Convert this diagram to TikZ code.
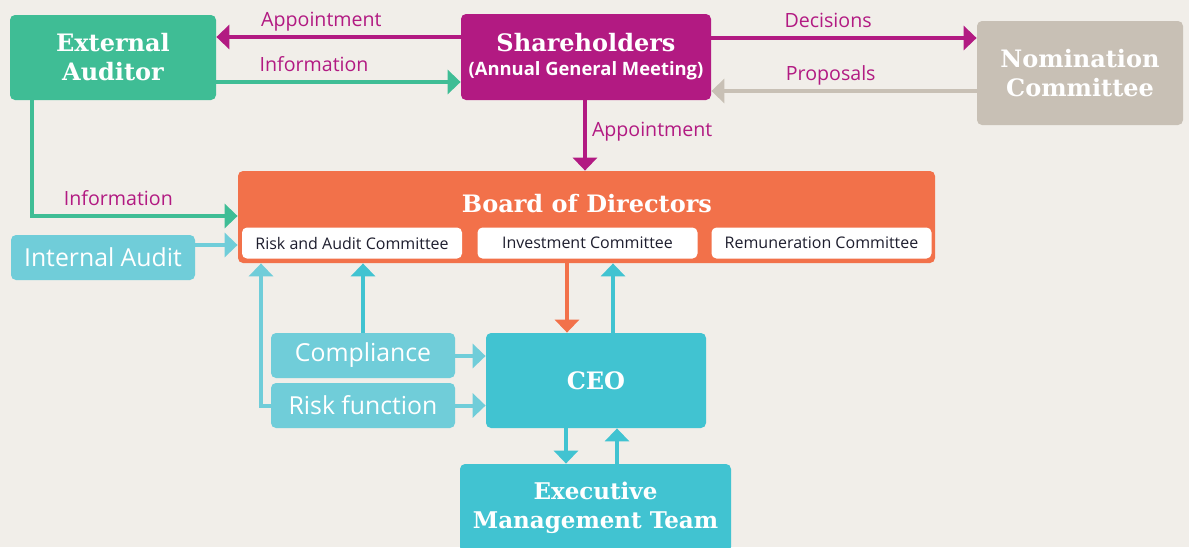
\documentclass[tikz,border=0pt]{standalone}
\usepackage{fontspec}
\setmainfont{DejaVu Serif}
\setsansfont{Open Sans}
\usetikzlibrary{arrows.meta}
\definecolor{paper}{HTML}{F1EEE9}
\definecolor{leaf}{HTML}{3FBD95}
\definecolor{plum}{HTML}{B21A82}
\definecolor{sand}{HTML}{C8C0B5}
\definecolor{tangerine}{HTML}{F2714A}
\definecolor{teal}{HTML}{41C3D1}
\definecolor{pale}{HTML}{70CDD9}
\definecolor{ink}{HTML}{1E1E2E}
\newcommand\lw{2pt}

\begin{document}
\begin{tikzpicture}[x=0.5pt, y=-0.5pt,
  box/.style={rounded corners=2.5pt, inner sep=0pt, align=center, text=white},
  head/.style={font=\bfseries\fontsize{12}{14.5}\selectfont},
  sub/.style={box, fill=white, text=ink, minimum width=110pt, minimum height=15.5pt, font=\sffamily\fontsize{8}{9}\selectfont},
  side/.style={box, fill=pale, minimum width=92pt, minimum height=22.5pt, font=\sffamily\fontsize{12.4}{14}\selectfont},
  arr/.style={line width=\lw, -{Triangle[width=12pt,length=6.5pt]}},
  lbl/.style={font=\sffamily\fontsize{9.8}{11}\selectfont, text=plum, text height=7pt, text depth=2pt, inner sep=2.5pt}]
\fill [paper, use as bounding box] (0,0) rectangle (1189,547);

%top row
\node at (113, 57.5) [box, head, fill=leaf, minimum width=103pt, minimum height=42.5pt] (ext) {External\\Auditor};
\node at (586, 57) [box, fill=plum, minimum width=125pt, minimum height=43pt, font=\fontsize{12}{12}\selectfont] (share)
  {{\bfseries Shareholders}\\{\sffamily\bfseries\fontsize{9.2}{11}\selectfont (Annual General Meeting)}};
\node at (1080, 73) [box, head, fill=sand, minimum width=103pt, minimum height=52pt] (nom) {Nomination\\Committee};

%board and its committees
\node at (586.5, 217) [box, fill=tangerine, minimum width=348.5pt, minimum height=46pt] (board) {};
\node at (587, 204) [head, text=white] (boardname) {Board of Directors};
\node at (352, 243) [sub] (rac) {Risk and Audit Committee};
\node at (587.5, 243) [sub] (inv) {Investment Committee};
\node at (821.5, 243) [sub] (rem) {Remuneration Committee};

%control functions
\node at (103, 257.5) [side] (ia) {Internal Audit};
\node at (363, 355.5) [side] (comp) {Compliance};
\node at (363, 405.5) [side] (risk) {Risk function};

%management
\node at (596, 380.5) [box, head, fill=teal, minimum width=110pt, minimum height=47.5pt] (ceo) {CEO};
\node at (595.5, 508) [box, head, fill=teal, minimum width=135.5pt, minimum height=44pt, font=\bfseries\fontsize{11.5}{14.5}\selectfont] (emt) {Executive\\Management Team};

    %shareholders relations
    \draw [arr, plum] (share.west |- 0,37) -- (ext.east |- 0,37) node[lbl, pos=0.57, above] {Appointment};
    \draw [arr, leaf] (ext.east |- 0,82) -- (share.west |- 0,82) node[lbl, pos=0.4, above] {Information};
    \draw [arr, plum] (share.east |- 0,38) -- (nom.west |- 0,38) node[lbl, pos=0.44, above] {Decisions};
    \draw [arr, sand] (nom.west |- 0,91) -- (share.east |- 0,91) node[lbl, pos=0.55, above] {Proposals};
    \draw [arr, plum] (585,0 |- share.south) -- (585,0 |- board.north) node[lbl, pos=0.45, right] {Appointment};

    %reporting into the board
    \draw [arr, leaf] (32,0 |- ext.south) |- (board.west |- 0,216) node[lbl, pos=0.71, above] {Information};
    \draw [arr, pale] (ia.east |- 0,245) -- (board.west |- 0,245);
    \draw [arr, teal] (comp.north) -- (comp.north |- board.south);
    \draw [arr, pale] (risk.west) -| (261,0 |- board.south);

    %into and out of the CEO
    \draw [arr, pale] (comp.east |- 0,356) -- (ceo.west |- 0,356);
    \draw [arr, pale] (risk.east) -- (ceo.west |- risk.east);
    \draw [arr, tangerine] (567,0 |- board.south) -- (567,0 |- ceo.north);
    \draw [arr, teal] (613,0 |- ceo.north) -- (613,0 |- board.south);
    \draw [arr, teal] (566,0 |- ceo.south) -- (566,0 |- emt.north);
    \draw [arr, teal] (617,0 |- emt.north) -- (617,0 |- ceo.south);
\end{tikzpicture}
\end{document}
